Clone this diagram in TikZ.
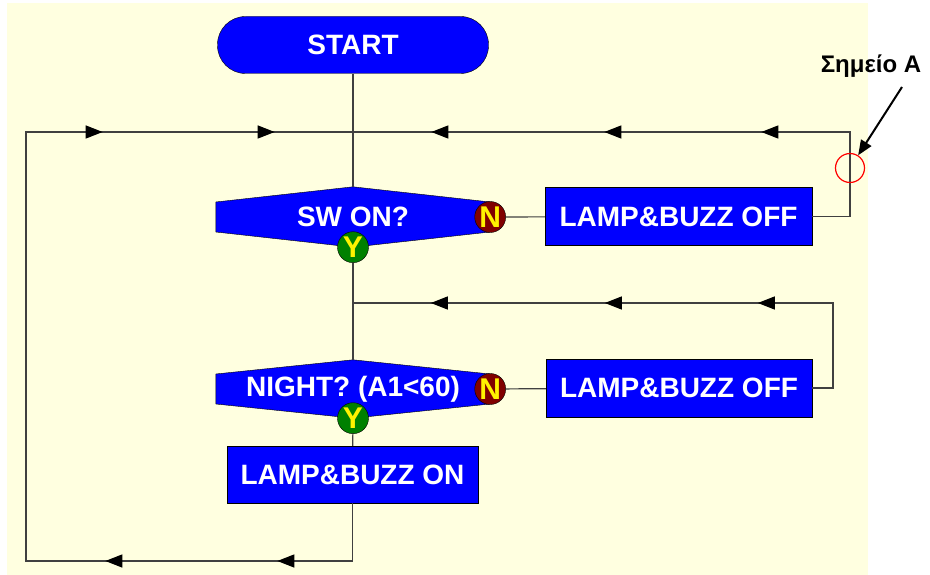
\documentclass[tikz,border=0pt]{standalone}
\usepackage{fontspec}
\setmainfont{Liberation Sans}
\usetikzlibrary{arrows.meta, decorations.markings, backgrounds}

\definecolor{paper}{HTML}{FFFFE0}
\definecolor{flowblue}{HTML}{0000FF}
\definecolor{nored}{HTML}{800000}
\definecolor{yesgreen}{HTML}{008000}
\definecolor{wiregray}{HTML}{404040}

\tikzset{flowtip/.tip={Triangle[length=17pt,width=13pt]}}

\begin{document}
\begin{tikzpicture}[
  x=1pt, y=-1pt,
  big/.style={font=\fontsize{28}{30}\selectfont\bfseries},
  term/.style={draw, fill=flowblue, text=white, big, rounded corners=28pt, minimum width=271pt, minimum height=57pt, inner sep=0pt},
  box/.style={draw, fill=flowblue, text=white, big, minimum width=#1, minimum height=58pt, inner sep=0pt},
  decision/.style={text=white, big, minimum width=274pt, minimum height=#1, inner sep=0pt},
  hexfill/.style={draw, fill=flowblue},
  badge/.style={circle, draw, fill=#1, text=yellow, font=\fontsize{30}{30}\selectfont\bfseries, minimum size=31pt, inner sep=0pt},
  wire/.style={draw=wiregray, line width=1.2pt},
  tipat/.style={postaction={decorate, decoration={markings, mark=at position #1 with {\arrow[black]{flowtip}}}}},
  pointer/.style={-{Triangle[length=15pt,width=12pt]}, line width=2pt, black},
  spot/.style={circle, draw=red, line width=1.2pt, minimum size=29pt, inner sep=0pt}
]
\useasboundingbox (0,0) rectangle (930,575);

\node[term] (start) at (353,45) {START};
\node[decision=60pt] (sw) at (353,217) {SW ON?};
\node[box=267pt] (off1) at (678.5,216.5) {LAMP\&BUZZ OFF};
\node[decision=58pt] (night) at (353,389) {NIGHT? (A1<60)};
\node[box=266pt] (off2) at (679,388) {LAMP\&BUZZ OFF};
\node[box=251pt, minimum height=57pt] (on) at (352.5,474.5) {LAMP\&BUZZ ON};

\node[badge=nored] (swN) at (sw.east) {N};
\node[badge=yesgreen] (swY) at (sw.south) {Y};
\node[badge=nored] (nightN) at (night.east) {N};
\node[badge=yesgreen] (nightY) at (night.south) {Y};

\coordinate (j1) at (353,132);
\coordinate (c1) at (850,132);
\coordinate (j2) at (353,303);
\coordinate (c2) at (833,303);
\coordinate (c3) at (26,561);
\coordinate (c4) at (26,132);

\begin{scope}[on background layer]
  \fill[paper] (7,3) rectangle (868,575);
  \draw[hexfill] ([yshift=15pt]sw.west) -- (sw.north) -- ([yshift=15pt]sw.east) -- ([yshift=-15pt]sw.east) -- (sw.south) -- ([yshift=-15pt]sw.west) -- cycle;
  \draw[hexfill] ([yshift=15pt]night.west) -- (night.north) -- ([yshift=15pt]night.east) -- ([yshift=-15pt]night.east) -- (night.south) -- ([yshift=-15pt]night.west) -- cycle;
\end{scope}

\draw[wire] (start) -- (sw.north);
\draw[wire] (swY) -- (night.north);
\draw[wire] (nightY) -- (on);
\draw[wire] (swN) -- (off1);
\draw[wire] (nightN) -- (off2);
\draw[wire, tipat=211pt, tipat=368pt, tipat=541pt] (off1.east) -| (c1) -- (j1);
\draw[wire, tipat=181pt, tipat=334pt, tipat=508pt] (off2.east) -| (c2) -- (j2);
\draw[wire, tipat=133pt, tipat=305pt, tipat=890pt, tipat=1062pt] (on) |- (c3) -- (c4) -- (j1);

\node[spot] (ptA) at (850,168) {};
\node[anchor=base, font=\fontsize{24}{26}\selectfont\bfseries] (lblA) at (871,73) {Σημείο Α};
\coordinate (Atail) at (902,87);
\draw[pointer] (Atail) -- (ptA);
\end{tikzpicture}
\end{document}
